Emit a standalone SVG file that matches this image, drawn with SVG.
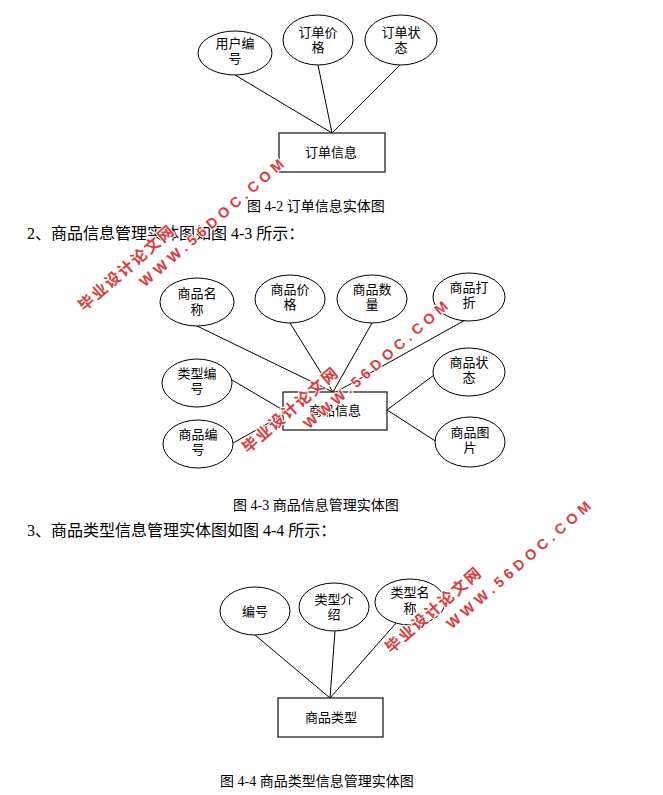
<svg xmlns="http://www.w3.org/2000/svg" width="663" height="795" viewBox="0 0 663 795">
<style>
.at{fill:#fff;stroke:#000;stroke-width:1}
.en{fill:#fff;stroke:#222;stroke-width:1.3}
.t{font-family:"Liberation Sans","Noto Sans CJK SC",sans-serif;font-size:13px;fill:#000;text-anchor:middle}
.cap{font-family:"Liberation Serif","Noto Sans CJK SC",serif;font-size:14px;fill:#000}
.body{font-family:"Liberation Serif","Noto Sans CJK SC",serif;font-size:16px;fill:#000}
.ln{stroke:#000;stroke-width:1;fill:none}
.wm1{font-family:"Noto Sans CJK SC",sans-serif;font-weight:bold;font-size:15.5px;fill:#d83c3c;letter-spacing:2px;stroke:#fff;stroke-width:2;paint-order:stroke}
.wm2{font-family:"Liberation Sans",sans-serif;font-weight:bold;font-size:14.5px;fill:#d83c3c;letter-spacing:4.6px;stroke:#fff;stroke-width:2;paint-order:stroke}
</style>
<defs>
<g id="wm">
<text class="wm1" x="-7.5" y="5.5">毕业设计论文网</text>
<text class="wm2" x="54.5" y="27">WWW.56DOC.COM</text>
</g>
</defs>
<rect width="663" height="795" fill="#fff"/>

<g id="connectors">
<line class="ln" x1="235" y1="75" x2="332" y2="133"/>
<line class="ln" x1="318" y1="65" x2="332" y2="133"/>
<line class="ln" x1="400" y1="65" x2="332" y2="133"/>

<line class="ln" x1="197" y1="326" x2="333" y2="392"/>
<line class="ln" x1="290" y1="323" x2="333" y2="392"/>
<line class="ln" x1="372" y1="323" x2="333" y2="392"/>
<line class="ln" x1="467" y1="319" x2="336" y2="392"/>
<line class="ln" x1="232" y1="380" x2="283" y2="410"/>
<line class="ln" x1="233" y1="443" x2="283" y2="415"/>
<line class="ln" x1="434" y1="375" x2="387" y2="410"/>
<line class="ln" x1="387" y1="410" x2="437" y2="442"/>

<line class="ln" x1="255" y1="635" x2="330" y2="698"/>
<line class="ln" x1="335" y1="631" x2="330" y2="698"/>
<line class="ln" x1="397" y1="622" x2="330" y2="698"/>
</g>

<g id="n-yhbh"><ellipse class="at" cx="235" cy="53" rx="37" ry="22"/><text class="t" x="235" y="47.5">用户编</text><text class="t" x="235" y="62.5">号</text></g>
<g id="n-ddjg"><ellipse class="at" cx="318" cy="40" rx="35" ry="25"/><text class="t" x="318" y="37">订单价</text><text class="t" x="318" y="52">格</text></g>
<g id="n-ddzt"><ellipse class="at" cx="401" cy="40" rx="36" ry="25"/><text class="t" x="401" y="37">订单状</text><text class="t" x="401" y="52">态</text></g>
<g id="n-ddxx"><rect class="en" x="279" y="133" width="106" height="39"/><text class="t" x="331" y="157">订单信息</text></g>

<text class="cap" x="247" y="211">图 4-2 订单信息实体图</text>
<text class="body" x="27" y="239">2、商品信息管理实体图如图 4-3 所示：</text>

<g id="n-spmc"><ellipse class="at" cx="197" cy="302" rx="37" ry="24"/><text class="t" x="197" y="297.5">商品名</text><text class="t" x="197" y="313.5">称</text></g>
<g id="n-spjg"><ellipse class="at" cx="290" cy="299" rx="35" ry="24"/><text class="t" x="290" y="294">商品价</text><text class="t" x="290" y="309">格</text></g>
<g id="n-spsl"><ellipse class="at" cx="372" cy="299" rx="35" ry="24"/><text class="t" x="372" y="294">商品数</text><text class="t" x="372" y="309">量</text></g>
<g id="n-spdz"><ellipse class="at" cx="469" cy="297" rx="36" ry="24"/><text class="t" x="469" y="292">商品打</text><text class="t" x="469" y="307">折</text></g>
<g id="n-lxbh"><ellipse class="at" cx="197" cy="383" rx="35" ry="24"/><text class="t" x="197" y="378">类型编</text><text class="t" x="197" y="393">号</text></g>
<g id="n-spbh"><ellipse class="at" cx="198" cy="444" rx="35" ry="24"/><text class="t" x="198" y="439">商品编</text><text class="t" x="198" y="454">号</text></g>
<g id="n-spzt"><ellipse class="at" cx="469" cy="372" rx="36" ry="24"/><text class="t" x="469" y="367">商品状</text><text class="t" x="469" y="382">态</text></g>
<g id="n-sptp"><ellipse class="at" cx="470" cy="442" rx="35" ry="25"/><text class="t" x="470" y="437">商品图</text><text class="t" x="470" y="452">片</text></g>
<g id="n-spxx"><rect class="en" x="283" y="392" width="104" height="38"/><text class="t" x="335" y="415">商品信息</text></g>

<text class="cap" x="233" y="510">图 4-3 商品信息管理实体图</text>
<text class="body" x="27" y="536">3、商品类型信息管理实体图如图 4-4 所示：</text>

<g id="n-bh"><ellipse class="at" cx="255" cy="611" rx="35" ry="24"/><text class="t" x="255" y="615.5">编号</text></g>
<g id="n-lxjs"><ellipse class="at" cx="334" cy="607" rx="35" ry="24"/><text class="t" x="334" y="603.5">类型介</text><text class="t" x="334" y="618.5">绍</text></g>
<g id="n-lxmc"><ellipse class="at" cx="410" cy="602" rx="35" ry="23"/><text class="t" x="410" y="597">类型名</text><text class="t" x="410" y="612.5">称</text></g>
<g id="n-splx"><rect class="en" x="278" y="698" width="105" height="39"/><text class="t" x="331" y="722">商品类型</text></g>

<text class="cap" x="220" y="786">图 4-4 商品类型信息管理实体图</text>

<g id="watermarks">
<use href="#wm" transform="translate(86,303) rotate(-41)"/>
<use href="#wm" transform="translate(250,445) rotate(-41)"/>
<use href="#wm" transform="translate(393,645) rotate(-41)"/>
</g>
</svg>
